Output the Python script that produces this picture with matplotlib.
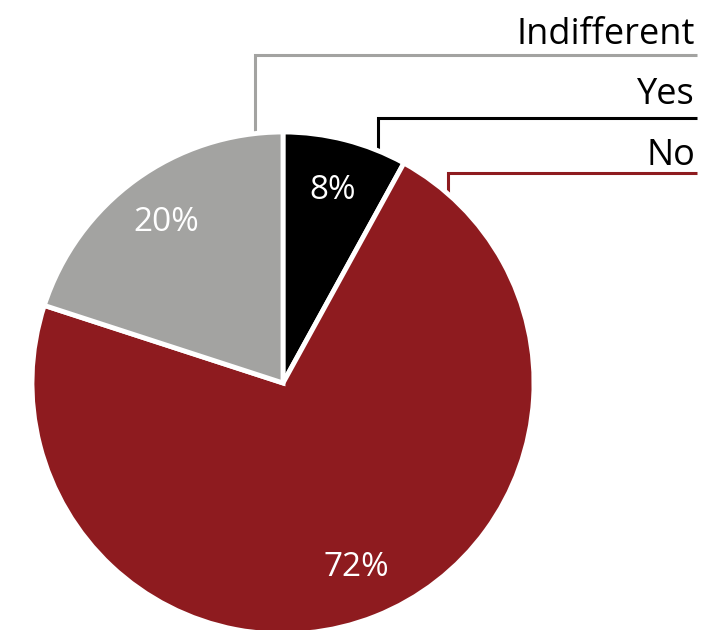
import numpy as np
import matplotlib.pyplot as plt

labels = ["Yes", "No", "Indifferent"]
shares = [8, 72, 20]
colors = ["#000000", "#8E1B1F", "#A3A3A1"]

W, H = 703, 630
fig = plt.figure(figsize=(W / 100, H / 100), dpi=100)
ax = fig.add_axes([0, 0, 1, 1])
ax.set_xlim(0, W)
ax.set_ylim(0, H)
ax.set_aspect("equal")
ax.axis("off")

cx, cy, r = 283, H - 383, 251
wedges, texts, autotexts = ax.pie(
    shares, colors=colors, startangle=90, counterclock=False,
    center=(cx, cy), radius=r, autopct="%d%%", pctdistance=0.79,
    wedgeprops=dict(edgecolor="white", linewidth=3.5),
    textprops=dict(color="white", fontsize=24, family="Open Sans"),
)
ax.set_xlim(0, W)
ax.set_ylim(0, H)

# leader lines: (angle on rim, height of horizontal in px from top, label baseline)
leaders = {
    "Indifferent": (96.4, 55, 44, "#A3A3A1"),
    "Yes": (67.7, 118, 104, "#000000"),
    "No": (49.0, 173, 165, "#8E1B1F"),
}
for name, (ang, yh, yt, col) in leaders.items():
    a = np.deg2rad(ang)
    x0 = cx + r * np.cos(a)
    y0 = cy + r * np.sin(a)
    ax.plot([x0, x0, 697], [y0 - 4, H - yh, H - yh], color=col, lw=2.2,
            solid_capstyle="butt", solid_joinstyle="miter", clip_on=False,
            zorder=0)
    ax.text(695, H - yt, name, ha="right", va="baseline", fontsize=26,
            family="Open Sans", color="black")

fig.savefig("out.png", dpi=100)
